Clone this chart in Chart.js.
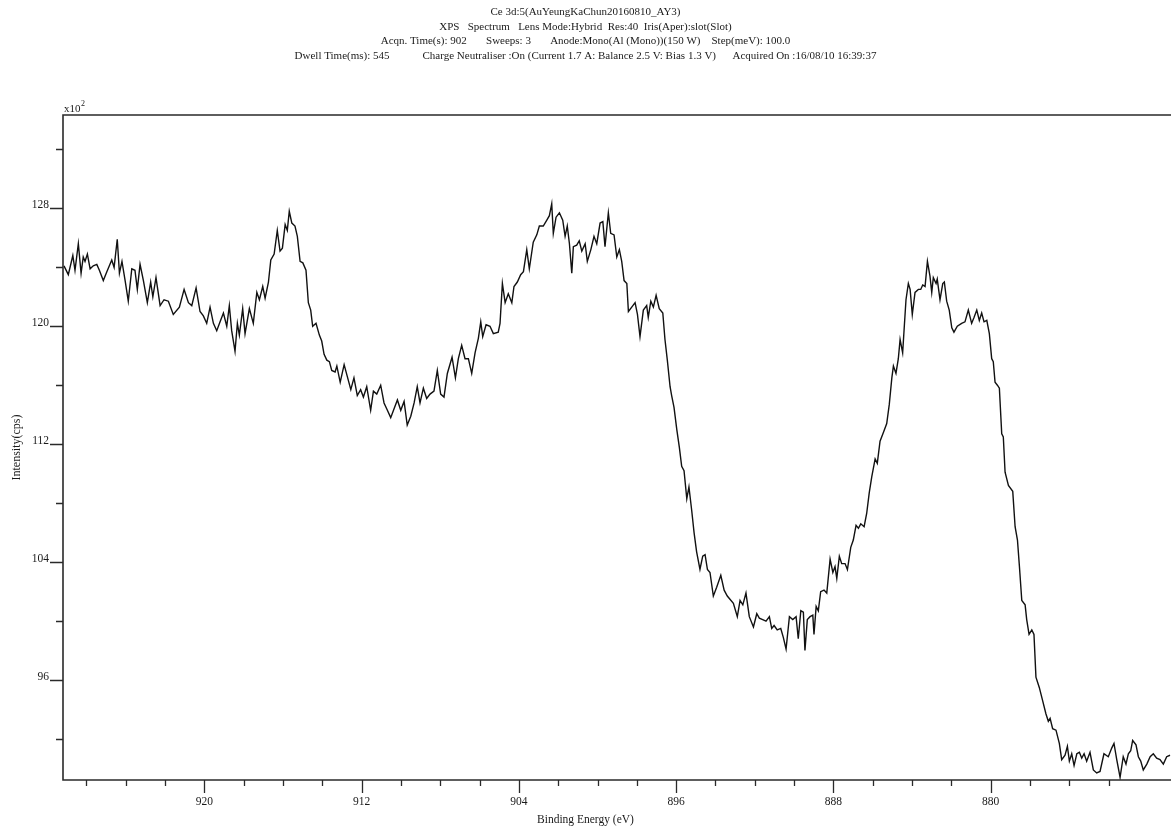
<!DOCTYPE html>
<html>
<head>
<meta charset="utf-8">
<title>Ce 3d XPS spectrum</title>
<script src="https://cdn.jsdelivr.net/npm/chart.js@4.4.1/dist/chart.umd.min.js"></script>
<style>
  html, body { margin: 0; padding: 0; background: #ffffff; }
  #wrap { width: 1171px; height: 829px; }
</style>
</head>
<body>
<div id="wrap"><canvas id="xps" width="1171" height="829"></canvas></div>
<script>
// Header lines of the acquisition record
const headerLines = [
  'Ce 3d:5(AuYeungKaChun20160810_AY3)',
  'XPS   Spectrum   Lens Mode:Hybrid  Res:40  Iris(Aper):slot(Slot)',
  'Acqn. Time(s): 902       Sweeps: 3       Anode:Mono(Al (Mono))(150 W)    Step(meV): 100.0',
  'Dwell Time(ms): 545            Charge Neutraliser :On (Current 1.7 A: Balance 2.5 V: Bias 1.3 V)      Acquired On :16/08/10 16:39:37'
];

// Binding energy (eV), high to low
const bindingEnergy = [
  927.14,926.92,926.69,926.58,926.41,926.27,926.16,926.07,925.95,925.81,
  925.65,925.47,925.34,925.14,924.96,924.71,924.59,924.43,924.32,924.19,
  924.03,923.87,923.69,923.53,923.41,923.27,923.10,922.90,922.73,922.62,
  922.46,922.25,922.05,921.83,921.58,921.27,921.03,920.81,920.64,920.42,
  920.22,920.05,919.88,919.71,919.54,919.37,919.20,919.03,918.86,918.73,
  918.61,918.44,918.32,918.22,918.05,917.93,917.71,917.51,917.33,917.20,
  917.03,916.91,916.74,916.62,916.45,916.29,916.15,916.03,915.89,915.78,
  915.68,915.55,915.39,
  915.27,915.13,914.99,914.83,914.71,914.59,914.49,914.32,914.15,914.03,
  913.91,913.77,913.64,913.52,913.35,913.26,913.09,912.89,912.73,912.55,
  912.39,912.22,912.05,911.91,911.74,911.54,911.40,911.23,911.03,910.86,
  910.69,910.52,910.35,910.18,910.01,909.84,909.68,909.50,909.33,909.17,
  909.03,908.86,908.69,908.52,908.32,908.15,907.98,907.81,907.64,907.40,
  907.23,907.08,906.91,906.74,906.57,906.40,906.23,906.06,905.94,905.84,
  905.67,905.47,905.30,905.05,904.96,904.84,904.70,904.54,904.36,904.25,
  904.08,903.91,903.77,903.60,903.47,
  903.27,903.09,902.96,902.76,902.58,902.45,902.33,902.25,902.11,901.94,
  901.77,901.65,901.54,901.43,901.31,901.23,901.06,900.93,900.80,900.63,
  900.52,900.34,900.18,900.04,899.87,899.73,899.62,899.45,899.33,899.16,
  899.02,898.89,898.77,898.65,898.51,898.43,898.26,898.09,897.97,897.84,
  897.67,897.50,897.42,897.29,897.16,897.02,896.86,896.68,896.57,896.45,
  896.31,896.23,896.11,895.97,895.84,895.72,895.60,895.46,895.35,895.21,
  895.09,894.96,894.79,894.65,894.53,894.41,894.28,894.11,893.94,893.73,
  893.56,893.40,893.09,892.89,892.75,892.61,892.45,892.28,892.07,891.90,
  891.77,
  891.60,891.43,891.26,891.14,891.02,890.86,890.68,890.55,890.41,890.24,
  890.07,889.90,889.79,889.66,889.53,889.45,889.33,889.19,889.05,888.99,
  888.88,888.77,888.65,888.48,888.34,888.17,888.03,887.92,887.83,887.70,
  887.58,887.41,887.29,887.12,886.99,886.85,886.73,886.61,886.44,886.31,
  886.18,886.05,885.88,885.77,885.63,885.46,885.29,885.16,885.03,884.95,
  884.82,884.70,884.61,884.48,884.41,884.31,884.19,884.10,883.99,883.85,
  883.68,883.56,883.46,883.34,883.22,883.09,883.00,882.92,882.78,882.72,
  882.58,882.44,882.36,882.24,882.11,881.98,881.87,881.70,881.48,881.31,
  881.14,880.97,880.85,880.71,880.58,880.46,880.34,880.20,880.07,
  879.95,879.87,879.78,879.66,879.56,879.44,879.36,879.27,879.10,878.88,
  878.76,878.64,878.54,878.42,878.25,878.17,878.05,877.91,877.80,877.70,
  877.53,877.36,877.19,877.07,876.98,876.85,876.68,876.51,876.39,876.22,
  876.10,876.00,875.88,875.76,875.62,875.49,875.37,875.25,875.12,874.95,
  874.78,874.61,874.44,874.24,874.02,873.84,873.73,873.59,873.42,873.26,
  873.12,873.00,872.88,872.78,872.61,872.49,872.37,872.24,872.06,871.89,
  871.73,871.56,871.39,871.22,871.05,870.88
];

// Intensity in units of 10^2 cps
const intensity = [
  124.1,123.5,124.8,123.8,125.6,123.6,124.7,124.4,124.9,123.9,
  124.1,124.2,123.8,123.1,123.7,124.5,124.0,125.9,123.6,124.4,
  123.1,121.7,123.9,123.8,122.5,124.2,123.1,121.6,123.0,122.0,
  123.3,121.4,121.8,121.7,120.8,121.3,122.5,121.6,121.4,122.6,
  121.0,120.7,120.2,121.3,120.2,119.7,120.3,120.9,120.0,121.4,
  119.7,118.3,120.2,119.4,121.2,119.5,121.2,120.2,122.3,121.8,
  122.7,121.9,123.0,124.5,124.9,126.5,125.1,125.3,126.9,126.5,
  127.8,127.0,126.8,
  126.1,124.4,124.3,123.8,121.6,121.1,120.0,120.2,119.4,119.0,
  118.1,117.7,117.6,117.0,116.9,117.3,116.2,117.4,116.6,115.7,
  116.5,115.3,115.7,115.2,115.9,114.3,115.6,115.4,116.0,114.8,
  114.3,113.8,114.4,115.0,114.3,114.9,113.3,113.9,114.8,115.9,
  114.8,115.8,115.1,115.4,115.6,117.0,115.4,115.2,116.8,117.9,
  116.5,117.8,118.7,117.8,117.8,116.8,118.2,119.2,120.3,119.3,
  120.1,120.0,119.5,119.6,120.2,122.9,121.6,122.2,121.6,122.7,
  123.0,123.5,123.7,125.2,123.9,
  125.7,126.2,126.8,126.8,127.2,127.5,128.3,126.3,127.4,127.7,
  127.2,126.1,126.8,125.6,123.6,125.4,125.5,125.8,125.1,125.6,
  124.4,125.2,126.1,125.6,127.0,127.1,125.4,127.7,126.3,126.2,
  124.7,125.2,124.4,123.1,122.9,121.0,121.3,121.6,120.8,119.3,
  121.1,121.4,120.6,121.7,121.3,122.1,121.2,120.9,119.1,117.7,
  115.9,115.3,114.5,113.0,111.8,110.5,110.2,108.3,109.1,107.5,
  106.0,104.7,103.5,104.4,104.5,103.5,103.3,101.7,102.3,103.1,
  102.1,101.7,101.2,100.3,101.4,101.1,101.9,100.3,99.6,100.5,
  100.2,
  100.1,100.0,100.3,99.5,99.7,99.4,99.5,98.9,98.1,100.3,
  100.1,100.3,98.8,100.7,100.6,98.0,100.1,100.3,100.4,99.1,
  101.0,100.7,102.0,102.1,101.9,104.2,103.3,103.7,102.9,104.4,
  103.9,103.9,103.5,105.0,105.5,106.5,106.3,106.6,106.4,107.3,
  108.7,109.8,111.0,110.7,112.2,112.8,113.4,114.7,116.5,117.3,
  116.8,117.8,119.1,118.2,119.7,121.8,122.9,122.5,120.8,122.3,
  122.5,122.5,122.8,122.7,124.4,123.4,122.3,123.3,122.9,123.2,
  121.8,122.9,123.0,121.7,121.1,119.9,119.6,120.0,120.2,120.3,
  121.1,120.2,120.6,121.1,120.4,120.9,120.3,120.4,119.5,
  117.8,117.6,116.2,116.0,115.8,112.7,112.5,110.1,109.2,108.8,
  106.4,105.5,103.7,101.4,101.1,100.1,99.1,99.4,99.1,96.2,
  95.5,94.6,93.7,93.2,93.4,92.7,92.6,91.7,90.6,90.9,
  91.5,90.5,91.0,90.2,91.0,91.1,90.7,91.0,90.5,91.1,
  89.9,89.7,89.8,91.0,90.8,91.4,91.7,90.6,89.4,90.8,
  90.3,91.0,91.2,91.9,91.6,90.8,90.5,89.9,90.3,90.8,
  91.0,90.7,90.6,90.3,90.8,90.9
];

// Axis ticks: every tick position, and the ones that carry a label
const xTickValues = [926,924,922,920,918,916,914,912,910,908,906,904,902,900,
                     898,896,894,892,890,888,886,884,882,880,878,876,874];
const xLabelledTicks = [920, 912, 904, 896, 888, 880];
const yTickValues = [92,96,100,104,108,112,116,120,124,128,132];
const yLabelledTicks = [96, 104, 112, 120, 128];

const xTitle = 'Binding Energy (eV)';
const yTitle = 'Intensity(cps)';
const yExponent = 'x10';
const yExponentPower = '2';

const SERIF = "'Liberation Serif', 'DejaVu Serif', serif";
const INK = '#1a1a1a';

const points = bindingEnergy.map((e, i) => ({ x: e, y: intensity[i] }));

// Frame, tick marks, exponent and x-axis caption
const frameAndMarks = {
  id: 'frameAndMarks',
  afterDraw(chart) {
    const { ctx, chartArea: a, scales: { x, y } } = chart;
    ctx.save();
    ctx.strokeStyle = '#2a2a2a';
    ctx.lineWidth = 1.6;
    ctx.beginPath();
    ctx.moveTo(a.right, a.top);
    ctx.lineTo(a.left, a.top);
    ctx.lineTo(a.left, a.bottom);
    ctx.lineTo(a.right, a.bottom);
    ctx.stroke();

    ctx.lineWidth = 1.3;
    ctx.beginPath();
    x.ticks.forEach(t => {
      const px = Math.round(x.getPixelForValue(t.value)) + 0.5;
      const len = xLabelledTicks.includes(t.value) ? 13 : 6;
      ctx.moveTo(px, a.bottom);
      ctx.lineTo(px, a.bottom + len);
    });
    y.ticks.forEach(t => {
      const py = Math.round(y.getPixelForValue(t.value)) + 0.5;
      const len = yLabelledTicks.includes(t.value) ? 13 : 7;
      ctx.moveTo(a.left, py);
      ctx.lineTo(a.left - len, py);
    });
    ctx.stroke();

    ctx.fillStyle = INK;
    ctx.textBaseline = 'alphabetic';
    ctx.textAlign = 'left';
    ctx.font = '11px ' + SERIF;
    ctx.fillText(yExponent, a.left + 1, a.top - 3);
    const w = ctx.measureText(yExponent).width;
    ctx.font = '8px ' + SERIF;
    ctx.fillText(yExponentPower, a.left + 1 + w + 0.5, a.top - 9);

    ctx.font = '11.5px ' + SERIF;
    ctx.textAlign = 'center';
    ctx.textBaseline = 'middle';
    ctx.fillText(xTitle, chart.width / 2, 820);
    ctx.restore();
  }
};

new Chart(document.getElementById('xps'), {
  type: 'line',
  data: {
    datasets: [{
      data: points,
      borderColor: '#111111',
      borderWidth: 1.4,
      pointRadius: 0,
      tension: 0,
      fill: false
    }]
  },
  options: {
    responsive: false,
    animation: false,
    devicePixelRatio: 1,
    layout: { padding: { left: 0, right: 0, top: 0, bottom: 0 } },
    plugins: {
      legend: { display: false },
      tooltip: { enabled: false },
      title: {
        display: true,
        text: headerLines,
        color: INK,
        font: { family: SERIF, size: 11, weight: 'normal', lineHeight: 1.33 },
        padding: { top: 5, bottom: 51.5 }
      }
    },
    scales: {
      x: {
        type: 'linear',
        reverse: true,
        min: 870.83,
        max: 927.19,
        afterBuildTicks: s => { s.ticks = xTickValues.map(v => ({ value: v })); },
        afterFit: s => { s.height = 49; },
        grid: { display: false },
        border: { display: false },
        ticks: {
          autoSkip: false,
          maxRotation: 0,
          padding: 7,
          color: INK,
          font: { family: SERIF, size: 11.5 },
          callback: v => (xLabelledTicks.includes(v) ? String(v) : '')
        }
      },
      y: {
        type: 'linear',
        min: 89.22,
        max: 134.33,
        afterBuildTicks: s => { s.ticks = yTickValues.map(v => ({ value: v })); },
        afterFit: s => { s.width = 63; },
        grid: { display: false },
        border: { display: false },
        title: {
          display: true,
          text: yTitle,
          color: INK,
          font: { family: SERIF, size: 12 },
          padding: { top: 10, bottom: 0 }
        },
        ticks: {
          autoSkip: false,
          padding: 6,
          labelOffset: -3,
          color: INK,
          font: { family: SERIF, size: 11.5 },
          callback: v => (yLabelledTicks.includes(v) ? String(v) : '')
        }
      }
    }
  },
  plugins: [frameAndMarks]
});
</script>
</body>
</html>
